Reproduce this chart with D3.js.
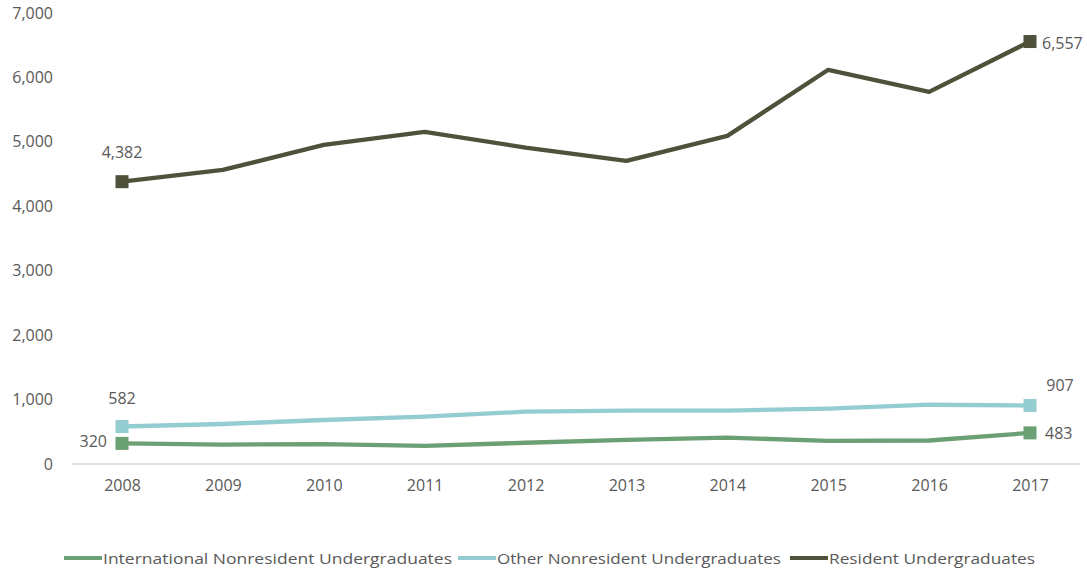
<!DOCTYPE html>
<html><head><meta charset="utf-8">
<script src="https://cdn.jsdelivr.net/npm/d3@7"></script>
<style>body{margin:0;background:#fff}svg{display:block}text{font-family:"Open Sans",sans-serif;fill:#595959}</style>
</head><body>
<svg id="c" width="1087" height="569"></svg>
<script>
const years = ["2008","2009","2010","2011","2012","2013","2014","2015","2016","2017"];
const international = [320,300,310,280,330,373,408,360,365,483];
const otherNonres = [582,621,683,735,812,828,828,860,920,907];
const resident = [4382,4565,4953,5155,4911,4705,5093,6118,5776,6557];
const yTicks = [0,1000,2000,3000,4000,5000,6000,7000];
const seriesNames = ["International Nonresident Undergraduates","Other Nonresident Undergraduates","Resident Undergraduates"];
const colors = ["#6b9f74","#93ccd1","#50513a"];

const svg = d3.select("#c");
const x = d3.scalePoint().domain(years).range([122,1030]);
const y = d3.scaleLinear().domain([0,7000]).range([464,13]);
const fmt = d3.format(",");

// baseline
svg.append("line").attr("x1",72).attr("x2",1080).attr("y1",y(0)).attr("y2",y(0)).attr("stroke","#d9d9d9").attr("stroke-width",1.3);

// y axis labels
const yAxis = d3.axisLeft(y).tickValues(yTicks).tickFormat(fmt).tickSize(0).tickPadding(0);
const gy = svg.append("g").attr("transform","translate(53,0)").call(yAxis);
gy.select(".domain").remove();
gy.selectAll("text").style("font-size","16px").attr("fill","#595959");

// x axis labels
const xAxis = d3.axisBottom(x).tickSize(0).tickPadding(0);
const gx = svg.append("g").attr("transform","translate(0,480)").call(xAxis);
gx.select(".domain").remove();
gx.selectAll("text").style("font-size","16px").attr("fill","#595959");

const data = [international, otherNonres, resident];
const line = d3.line().x((d,i)=>x(years[i])).y(d=>y(d));
data.forEach((s,k)=>{
  svg.append("path").datum(s).attr("d",line).attr("fill","none").attr("stroke",colors[k]).attr("stroke-width",4.3).attr("stroke-linejoin","round");
  [0,s.length-1].forEach(i=>{
    svg.append("rect").attr("x",x(years[i])-6.5).attr("y",y(s[i])-6.5).attr("width",13).attr("height",13).attr("fill",colors[k]);
  });
});

// data labels
const lab = (t,xx,yy,anchor)=>svg.append("text").attr("x",xx).attr("y",yy).attr("text-anchor",anchor).attr("dominant-baseline","central").style("font-size","16px").text(t);
lab(fmt(resident[0]), x(years[0]), y(resident[0])-30, "middle");
lab(fmt(resident[9]), x(years[9])+12, y(resident[9])+1, "start");
lab(fmt(otherNonres[0]), x(years[0]), y(otherNonres[0])-29, "middle");
lab(fmt(otherNonres[9]), x(years[9])+30, y(otherNonres[9])-21, "middle");
lab(fmt(international[0]), x(years[0])-15, y(international[0])-2, "end");
lab(fmt(international[9]), x(years[9])+15, y(international[9]), "start");

// legend
const legX = [64, 458, 790];
const legTextW = [349, 284, 206];
seriesNames.forEach((n,k)=>{
  svg.append("line").attr("x1",legX[k]).attr("x2",legX[k]+38).attr("y1",558).attr("y2",558).attr("stroke",colors[k]).attr("stroke-width",4);
  svg.append("text").attr("x",legX[k]+39).attr("y",558).attr("dominant-baseline","central").style("font-size","15px").attr("textLength",legTextW[k]).attr("lengthAdjust","spacingAndGlyphs").text(n);
});
</script>
</body></html>
